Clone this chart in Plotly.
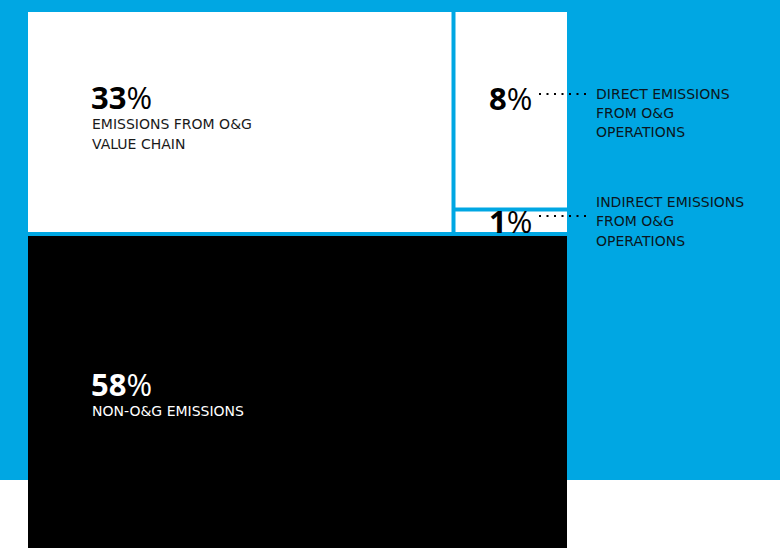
import plotly.graph_objects as go

# ---------------- data ----------------
value_labels = ["33", "8", "1", "58"]
shares = [33, 8, 1, 58]
label_lines = [
    ["EMISSIONS FROM O&G", "VALUE CHAIN"],
    ["DIRECT EMISSIONS", "FROM O&G", "OPERATIONS"],
    ["INDIRECT EMISSIONS", "FROM O&G", "OPERATIONS"],
    ["NON-O&G EMISSIONS"],
]

# ---------------- layout constants (pixels) ----------------
W, H = 780, 548
LEFT, RIGHT = 28, 567
TOP = 12
ROW_H = 220
GAP = 4
BLUE_BOTTOM = 480
BLUE = "#00A7E3"
INK = "#0b1620"

top_total = shares[0] + shares[1] + shares[2]
ux = (RIGHT - LEFT) / 100.0          # px per x unit (x in % of block width)
uy = ROW_H / top_total               # px per y unit
gx, gy = GAP / ux, GAP / uy

x_range = [-LEFT / ux, (W - LEFT) / ux]
y_bottom = (H - TOP) / uy
y_range = [y_bottom, -TOP / uy]      # reversed: y grows downward

# slice-and-dice layout computed from the shares
split_x = shares[0] / top_total * 100
split_y = shares[1] / (shares[1] + shares[2]) * top_total
cells = [
    (0, split_x, 0, top_total, "white"),
    (split_x + gx, 100, 0, split_y, "white"),
    (split_x + gx, 100, split_y + gy, top_total, "white"),
    (0, 100, top_total + gy, y_bottom, "black"),
]

fig = go.Figure()
for (x0, x1, y0, y1, col) in cells:
    fig.add_trace(go.Bar(
        x=[(x0 + x1) / 2], y=[y1 - y0], base=[y0], width=[x1 - x0],
        marker=dict(color=col, line=dict(width=0)),
        hoverinfo="skip", showlegend=False,
    ))

def px(xp):
    return xp / W

def py(yp):
    return 1 - yp / H

shapes = [dict(type="rect", xref="paper", yref="paper", x0=0, x1=1,
               y0=py(BLUE_BOTTOM), y1=1.0 + 0.001, fillcolor=BLUE,
               line=dict(width=0), layer="below")]

# connectors
for yc in [94, 216]:
    shapes.append(dict(type="line", xref="paper", yref="paper",
                       x0=px(539), x1=px(589), y0=py(yc), y1=py(yc),
                       line=dict(color="black", width=2, dash="2px,5.5px"),
                       layer="above"))

NUM_FONT = "Open Sans"
LAB_FONT = "DejaVu Sans"
NUM_SIZE = 31
LAB_SIZE = 14

annotations = []

def num(text, x, y, color):
    annotations.append(dict(
        text="<b>" + text + "</b>%", xref="paper", yref="paper",
        x=px(x), y=py(y), xanchor="left", yanchor="middle", showarrow=False,
        font=dict(family=NUM_FONT, size=NUM_SIZE, color=color)))

def lab(lines, x, y0, step, color):
    for i, t in enumerate(lines):
        annotations.append(dict(
            text=t, xref="paper", yref="paper",
            x=px(x), y=py(y0 + i * step), xanchor="left", yanchor="middle",
            showarrow=False,
            font=dict(family=LAB_FONT, size=LAB_SIZE, color=color)))

num(value_labels[0], 89, 97, "black")
lab(label_lines[0], 90, 124.5, 19, "#1a1a1a")
num(value_labels[1], 487, 98, "black")
lab(label_lines[1], 594, 93.5, 19.3, INK)
num(value_labels[2], 487, 221, "black")
lab(label_lines[2], 594, 202, 19.3, INK)
num(value_labels[3], 89, 384, "white")
lab(label_lines[3], 90, 411, 19, "white")

fig.update_layout(
    width=W, height=H,
    margin=dict(l=0, r=0, t=0, b=0, pad=0),
    paper_bgcolor="white", plot_bgcolor="rgba(0,0,0,0)",
    barmode="overlay",
    xaxis=dict(range=x_range, visible=False, fixedrange=True),
    yaxis=dict(range=y_range, visible=False, fixedrange=True),
    shapes=shapes, annotations=annotations,
    showlegend=False,
)

fig.write_html(
    "out.html",
    config={"displayModeBar": False, "staticPlot": True},
    post_script="document.body.style.margin='0';document.body.style.overflow='hidden';",
)
